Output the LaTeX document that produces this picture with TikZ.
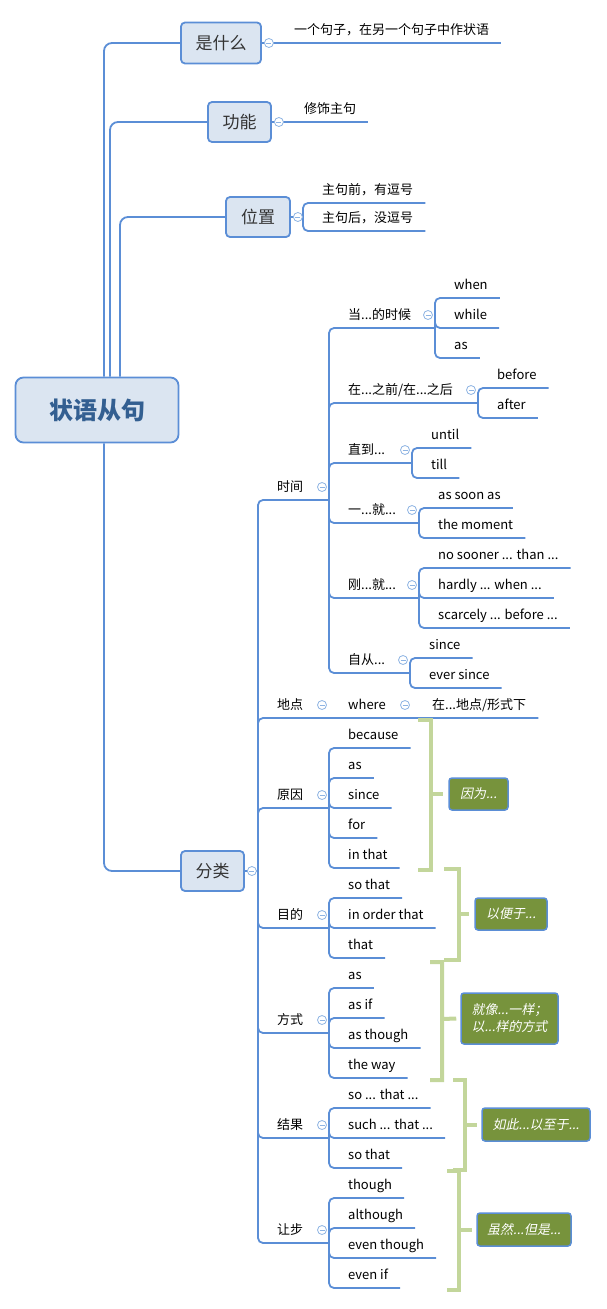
\documentclass[tikz,border=0pt]{standalone}
\usepackage{fontspec}
\setmainfont{Noto Sans CJK SC}
\newfontfamily\notefont{Noto Sans CJK SC}[FakeSlant=0.2]
\usepackage{tikz}
\usetikzlibrary{arrows.meta, positioning}

\definecolor{linec}{HTML}{5B8ED6}
\definecolor{foldc}{HTML}{8EB4E3}
\definecolor{topicfill}{HTML}{DBE5F1}
\definecolor{rootc}{HTML}{335F91}
\definecolor{bracec}{HTML}{C3D69B}
\definecolor{notefill}{HTML}{77933C}

\begin{document}
\begin{tikzpicture}[x=1pt, y=-1pt,
  conn/.style={draw=linec, line width=1.8pt, rounded corners=5pt},
  topic/.style={draw=linec, fill=topicfill, line width=1.8pt, rounded corners=4pt, minimum height=40pt, inner sep=0pt, font=\fontsize{17}{20}\selectfont, text=black!80},
  leaf/.style={anchor=south west, inner xsep=12pt, inner ysep=3pt, text height=10pt, text depth=5pt, font=\fontsize{13}{15}\selectfont},
  fold/.style={circle, draw=foldc, fill=white, line width=0.8pt, minimum size=9pt, inner sep=0pt, path picture={\draw[foldc, line width=0.8pt] ([xshift=-2.5pt]path picture bounding box.center) -- ([xshift=2.5pt]path picture bounding box.center);}},
  brace/.style={draw=bracec, line width=4pt},
  note/.style={draw=linec, fill=notefill, line width=1.5pt, rounded corners=3pt, text=white, minimum height=32pt, inner sep=0pt, font=\notefont\fontsize{13}{17}\selectfont, align=center}]
\useasboundingbox (0,0) rectangle (607,1309);

% Root and the four main topics
\node[topic, minimum width=163pt, minimum height=65pt, rounded corners=8pt, font=\bfseries\fontsize{24}{28}\selectfont, text=rootc] (root) at (97,410) {状语从句};
\node[topic, minimum width=80pt, minimum height=41pt] (shi) at (221,43) {是什么};
\node[topic, minimum width=63pt] (gong) at (239.5,122) {功能};
\node[topic, minimum width=64pt] (wei) at (258,217) {位置};
\node[topic, minimum width=63pt] (fen) at (212.5,871) {分类};

\draw[conn, rounded corners=8pt] ([xshift=7pt]root.north) |- (shi.west);
\draw[conn, rounded corners=8pt] ([xshift=13pt]root.north) |- (gong.west);
\draw[conn, rounded corners=8pt] ([xshift=23pt]root.north) |- (wei.west);
\draw[conn, rounded corners=8pt] ([xshift=7pt]root.south) |- (fen.west);

% 是什么 / 功能 / 位置
\node[leaf] (shi1) at (282,43) {一个句子，在另一个句子中作状语};
\draw[conn] (shi.east) -- (shi1.south east);
\node[leaf] (gong1) at (292,122) {修饰主句};
\draw[conn] (gong.east) -- (gong1.south east);
\coordinate (jwei) at (303,217);
\node[leaf] (wei1) at (310,203) {主句前，有逗号};
\node[leaf] (wei2) at (310,231) {主句后，没逗号};
\draw[conn] (wei.east) -- (jwei);
\draw[conn] (jwei) |- (wei1.south east) (jwei) |- (wei2.south east);

% 分类
\coordinate (jfen) at (258,871);
\draw[conn] (fen.east) -- (jfen);

% 时间
\node[leaf] (shijian) at (265,500) {时间};
\coordinate (jshijian) at (329,500);
\draw[conn] (jfen) |- (jshijian);

\node[leaf] (dang) at (336,328) {当...的时候};
\coordinate (jdang) at (435,328);
\node[leaf] (when) at (442,298) {when};
\node[leaf] (while) at (442,328) {while};
\node[leaf] (as1) at (442,358) {as};
\draw[conn] (jshijian) |- (jdang);
\draw[conn] (jdang) |- (when.south east) (jdang) |- (while.south east) (jdang) |- (as1.south east);

\node[leaf] (zai) at (336,403) {在...之前/在...之后};
\coordinate (jzai) at (478,403);
\node[leaf] (before) at (485,388) {before};
\node[leaf] (after) at (485,418) {after};
\draw[conn] (jshijian) |- (jzai);
\draw[conn] (jzai) |- (before.south east) (jzai) |- (after.south east);

\node[leaf] (zhi) at (336,463) {直到...};
\coordinate (jzhi) at (412,463);
\node[leaf] (until) at (419,448) {until};
\node[leaf] (till) at (419,478) {till};
\draw[conn] (jshijian) |- (jzhi);
\draw[conn] (jzhi) |- (until.south east) (jzhi) |- (till.south east);

\node[leaf] (yi) at (336,523) {一...就...};
\coordinate (jyi) at (419,523);
\node[leaf] (assoon) at (426,508) {as soon as};
\node[leaf] (moment) at (426,538) {the moment};
\draw[conn] (jshijian) |- (jyi);
\draw[conn] (jyi) |- (assoon.south east) (jyi) |- (moment.south east);

\node[leaf] (gang) at (336,598) {刚...就...};
\coordinate (jgang) at (419,598);
\node[leaf] (nosooner) at (426,568) {no sooner ... than ...};
\node[leaf] (hardly) at (426,598) {hardly ... when ...};
\node[leaf] (scarcely) at (426,628) {scarcely ... before ...};
\draw[conn] (jshijian) |- (jgang);
\draw[conn] (jgang) |- (nosooner.south east) (jgang) |- (hardly.south east) (jgang) |- (scarcely.south east);

\node[leaf] (zi) at (336,673) {自从...};
\coordinate (jzi) at (410,673);
\node[leaf] (since1) at (417,658) {since};
\node[leaf] (eversince) at (417,688) {ever since};
\draw[conn] (jshijian) |- (jzi);
\draw[conn] (jzi) |- (since1.south east) (jzi) |- (eversince.south east);

% 地点
\node[leaf] (didian) at (265,718) {地点};
\node[leaf] (where) at (336,718) {where};
\node[leaf] (xingshi) at (420,718) {在...地点/形式下};
\draw[conn] (jfen) |- (xingshi.south east);

% 原因
\node[leaf] (yuan) at (265,808) {原因};
\coordinate (jyuan) at (329,808);
\node[leaf] (because) at (336,748) {because};
\node[leaf] (as2) at (336,778) {as};
\node[leaf] (since2) at (336,808) {since};
\node[leaf] (for) at (336,838) {for};
\node[leaf] (inthat) at (336,868) {in that};
\draw[conn] (jfen) |- (jyuan);
\draw[conn] (jyuan) |- (because.south east) (jyuan) |- (as2.south east) (jyuan) |- (since2.south east) (jyuan) |- (for.south east) (jyuan) |- (inthat.south east);

% 目的
\node[leaf] (mu) at (265,928) {目的};
\coordinate (jmu) at (329,928);
\node[leaf] (sothat1) at (336,898) {so that};
\node[leaf] (inorder) at (336,928) {in order that};
\node[leaf] (that) at (336,958) {that};
\draw[conn] (jfen) |- (jmu);
\draw[conn] (jmu) |- (sothat1.south east) (jmu) |- (inorder.south east) (jmu) |- (that.south east);

% 方式
\node[leaf] (fang) at (265,1033) {方式};
\coordinate (jfang) at (329,1033);
\node[leaf] (as3) at (336,988) {as};
\node[leaf] (asif) at (336,1018) {as if};
\node[leaf] (asthough) at (336,1048) {as though};
\node[leaf] (theway) at (336,1078) {the way};
\draw[conn] (jfen) |- (jfang);
\draw[conn] (jfang) |- (as3.south east) (jfang) |- (asif.south east) (jfang) |- (asthough.south east) (jfang) |- (theway.south east);

% 结果
\node[leaf] (jie) at (265,1138) {结果};
\coordinate (jjie) at (329,1138);
\node[leaf] (sothat2) at (336,1108) {so ... that ...};
\node[leaf] (such) at (336,1138) {such ... that ...};
\node[leaf] (sothat3) at (336,1168) {so that};
\draw[conn] (jfen) |- (jjie);
\draw[conn] (jjie) |- (sothat2.south east) (jjie) |- (such.south east) (jjie) |- (sothat3.south east);

% 让步
\node[leaf] (rang) at (265,1243) {让步};
\coordinate (jrang) at (329,1243);
\node[leaf] (though) at (336,1198) {though};
\node[leaf] (although) at (336,1228) {although};
\node[leaf] (eventhough) at (336,1258) {even though};
\node[leaf] (evenif) at (336,1288) {even if};
\draw[conn] (jfen) |- (jrang);
\draw[conn] (jrang) |- (though.south east) (jrang) |- (although.south east) (jrang) |- (eventhough.south east) (jrang) |- (evenif.south east);

% Summary brackets and notes
\node[note, minimum width=59pt] (yinwei) at (478.5,794) {因为...};
\draw[brace] (418,720) -- (431,720) -- (431,870) -- (418,870) (431,794) -- ([xshift=-5pt]yinwei.west);
\node[note, minimum width=72pt] (yibian) at (511,914) {以便于...};
\draw[brace] (444,869) -- (459,869) -- (459,960) -- (444,960) (459,914) -- ([xshift=-5pt]yibian.west);
\node[note, minimum width=97pt, minimum height=51pt] (jiuxiang) at (509.5,1018.5) {就像...一样；\\以...样的方式};
\draw[brace] (430,962) -- (442,962) -- (442,1080) -- (430,1080) (442,1019) -- ([xshift=-4pt]jiuxiang.west);
\node[note, minimum width=108pt, minimum height=33pt] (ruci) at (536,1124.5) {如此...以至于...};
\draw[brace] (453,1080) -- (465,1080) -- (465,1170) -- (453,1170) (465,1124.5) -- ([xshift=-4pt]ruci.west);
\node[note, minimum width=94pt, minimum height=33pt] (suiran) at (524,1229.5) {虽然...但是...};
\draw[brace] (447,1171) -- (459,1171) -- (459,1290) -- (447,1290) (459,1229.5) -- ([xshift=-4pt]suiran.west);

% Fold markers
\node[fold] (fshi) at ([xshift=7pt]shi.east) {};
\node[fold] (fgong) at ([xshift=7pt]gong.east) {};
\node[fold] (fwei) at ([xshift=7pt]wei.east) {};
\node[fold] (ffen) at ([xshift=7pt]fen.east) {};
\node[fold] (fshijian) at (322,487) {};
\node[fold] (fdidian) at (322,705) {};
\node[fold] (fyuan) at (322,795) {};
\node[fold] (fmu) at (322,915) {};
\node[fold] (ffang) at (322,1020) {};
\node[fold] (fjie) at (322,1125) {};
\node[fold] (frang) at (322,1230) {};
\node[fold] (fdang) at (428,315) {};
\node[fold] (fzai) at (471,390) {};
\node[fold] (fzhi) at (405,450) {};
\node[fold] (fyi) at (412,510) {};
\node[fold] (fgang) at (412,585) {};
\node[fold] (fzi) at (403,660) {};
\node[fold] (fwhere) at (405,705) {};

\end{tikzpicture}
\end{document}
